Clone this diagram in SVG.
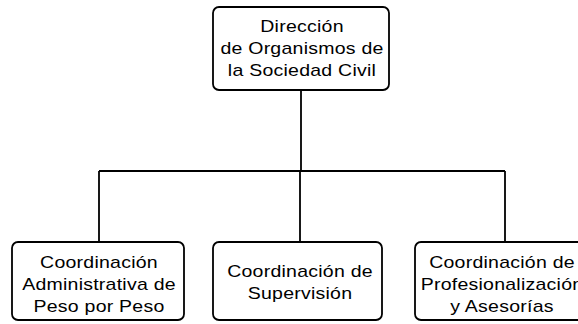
<svg xmlns="http://www.w3.org/2000/svg" width="578" height="324" viewBox="0 0 578 324">
<style>
.box{fill:#fff;stroke:#000;stroke-width:1.8}
.ln{fill:none;stroke:#000;stroke-width:1.8}
text{font-family:"Liberation Sans",Arial,sans-serif;font-size:16px;fill:#000;text-anchor:middle;letter-spacing:0.2px}
</style>
<rect width="578" height="324" fill="#fff"/>
<g id="connectors">
<path class="ln" d="M301,90 V171 M99,171 H505 M99,171 V242 M300,171 V242 M505,171 V242"/>
</g>
<g id="n-direccion">
<rect class="box" x="213" y="7" width="176" height="83" rx="6"/>
<g transform="translate(302,0) scale(1.22,1)">
<text x="0" y="32">Dirección</text>
<text x="0" y="54">de Organismos de</text>
<text x="0" y="76">la Sociedad Civil</text>
</g>
</g>
<g id="n-administrativa">
<rect class="box" x="12" y="242" width="172" height="78" rx="6"/>
<g transform="translate(99,0) scale(1.22,1)">
<text x="0" y="268">Coordinación</text>
<text x="0" y="290">Administrativa de</text>
<text x="0" y="312">Peso por Peso</text>
</g>
</g>
<g id="n-supervision">
<rect class="box" x="213" y="242" width="169" height="78" rx="6"/>
<g transform="translate(300,0) scale(1.22,1)">
<text x="0" y="277">Coordinación de</text>
<text x="0" y="299">Supervisión</text>
</g>
</g>
<g id="n-profesionalizacion">
<rect class="box" x="415" y="242" width="176" height="78" rx="6"/>
<g transform="translate(502,0) scale(1.22,1)">
<text x="0" y="268">Coordinación de</text>
<text x="0" y="290">Profesionalización</text>
<text x="0" y="312">y Asesorías</text>
</g>
</g>
</svg>
